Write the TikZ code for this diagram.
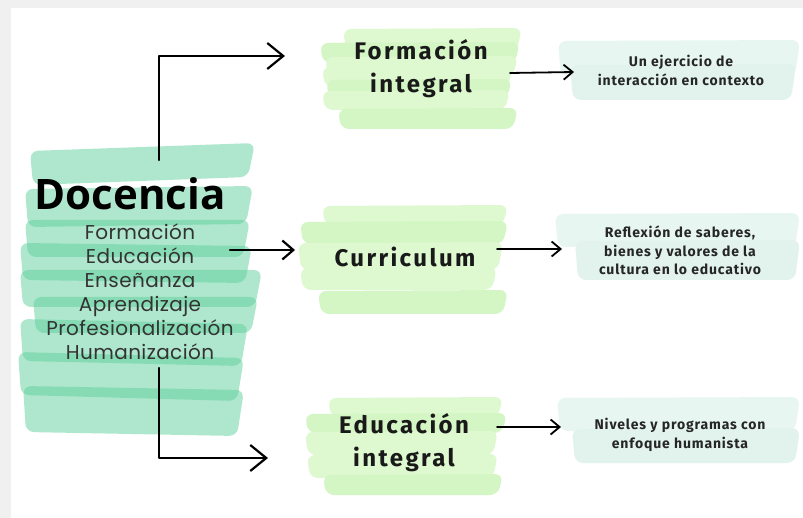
\documentclass[tikz,border=0pt]{standalone}
\usepackage{fontspec}
\usetikzlibrary{arrows.meta}
\newfontfamily\opensans{Open Sans}
\newfontfamily\poppins{Poppins}[LetterSpace=2]
\newfontfamily\firatitle{Fira Sans}[LetterSpace=10]
\newfontfamily\firasmall{Fira Sans}[LetterSpace=6]
\definecolor{mint}{RGB}{95,209,156}
\definecolor{limeA}{RGB}{222,248,208}
\definecolor{limeB}{RGB}{212,245,196}
\definecolor{paleA}{RGB}{231,246,240}
\definecolor{paleB}{RGB}{225,243,236}
\definecolor{marginc}{RGB}{240,240,240}
\tikzset{
  brush/.style={fill=#1, fill opacity=0.5, rounded corners=8pt},
  sbrush/.style={fill=#1, rounded corners=8pt},
  conn/.style={draw=black, line width=2.2pt, line cap=round, line join=round},
  bigarr/.style={conn, -{Straight Barb[length=16pt,width=26pt,line width=2.2pt]}},
  midarr/.style={conn, -{Straight Barb[length=11pt,width=19pt,line width=2.2pt]}},
  smallarr/.style={conn, line width=1.8pt, -{Straight Barb[length=9pt,width=15pt,line width=1.8pt]}},
  doctxt/.style={font=\opensans\bfseries\fontsize{42}{42}\selectfont, inner sep=0pt},
  listtxt/.style={font=\poppins\fontsize{20}{24}\selectfont, align=center, inner sep=0pt, text=black!80},
  titletxt/.style={font=\firatitle\bfseries\fontsize{24}{33}\selectfont, align=center, inner sep=0pt, text=black!90},
  smalltxt/.style={font=\firasmall\bfseries\fontsize{14}{18.5}\selectfont, align=center, inner sep=0pt, text=black!85}
}
% translucent brush stroke: color, x1, x2, y1, y2, tilt (left end lower by tilt)
\newcommand\bst[6]{\fill[brush=#1] (#2,{#4+#6}) -- (#3,#4) -- ({#3-7},#5) -- ({#2+3},{#5+#6}) -- cycle;}
% solid brush stroke
\newcommand\sst[5]{\fill[sbrush=#1] (#2,{#4+1}) -- (#3,#4) -- ({#3-5},#5) -- ({#2+3},#5) -- cycle;}
\begin{document}
\begin{tikzpicture}[x=1pt,y=-1pt]
\useasboundingbox (0,0) rectangle (803,518);
\fill[marginc] (0,0) rectangle (803,518);
\fill[white] (11,8) rectangle (803,518);

% left mint brush strokes
\bst{mint}{30}{255}{143}{177}{8}
\bst{mint}{25}{253}{186}{224}{3}
\bst{mint}{25}{250}{220}{257}{0}
\bst{mint}{20}{252}{246}{283}{-3}
\bst{mint}{20}{262}{270}{307}{0}
\bst{mint}{33}{258}{297}{333}{0}
\bst{mint}{20}{248}{324}{366}{-5}
\bst{mint}{18}{244}{358}{401}{-6}
\bst{mint}{23}{244}{390}{436}{-4}

% lime strokes: Formacion integral
\sst{limeA}{343}{522}{28}{50}
\sst{limeB}{320}{520}{42}{63}
\sst{limeA}{325}{518}{56}{76}
\sst{limeA}{322}{513}{66}{87}
\sst{limeB}{326}{512}{79}{98}
\sst{limeA}{322}{510}{90}{110}
\sst{limeB}{338}{518}{108}{129}
% lime strokes: Curriculum
\sst{limeA}{322}{508}{205}{225}
\sst{limeB}{300}{508}{221}{244}
\sst{limeA}{298}{503}{242}{270}
\sst{limeA}{300}{497}{267}{290}
\sst{limeB}{318}{508}{290}{314}
% lime strokes: Educacion integral
\sst{limeA}{328}{503}{397}{417}
\sst{limeB}{305}{507}{413}{433}
\sst{limeA}{305}{498}{431}{455}
\sst{limeA}{307}{498}{454}{478}
\sst{limeB}{323}{503}{474}{495}

% pale strokes, right boxes
\sst{paleA}{558}{800}{40}{76}
\sst{paleB}{570}{796}{64}{100}
\sst{paleA}{555}{800}{213}{247}
\sst{paleB}{575}{800}{240}{280}
\sst{paleA}{557}{800}{397}{431}
\sst{paleB}{572}{800}{428}{463}

% texts
\node[doctxt, anchor=base] (doc) at (130,210) {Docencia};
\node[listtxt, anchor=north] (lst) at (140,224) {Formación\\Educación\\Enseñanza\\Aprendizaje\\Profesionalización\\Humanización};
\node[titletxt, anchor=north] (t1) at (421,39) {Formación\\integral};
\node[titletxt, anchor=base] (t2) at (405,267) {Curriculum};
\node[titletxt, anchor=north] (t3) at (404,413) {Educación\\integral};
\node[smalltxt, anchor=north] (r1) at (681,55) {Un ejercicio de\\interacción en contexto};
\node[smalltxt, anchor=north] (r2) at (680,226) {Reflexión de saberes,\\bienes y valores de la\\cultura en lo educativo};
\node[smalltxt, anchor=north] (r3) at (680,418) {Niveles y programas con\\enfoque humanista};

% connectors
\coordinate (s1) at (159,160);
\coordinate (e1) at (285,56);
\coordinate (s2) at (230,250);
\coordinate (e2) at (295,250);
\coordinate (s3) at (159,368);
\coordinate (e3) at (268,458);
\coordinate (s4) at (510,73);
\coordinate (e4) at (574,72);
\coordinate (s5) at (497,249);
\coordinate (e5) at (562,249);
\coordinate (s6) at (497,427);
\coordinate (e6) at (561,427);
\draw[bigarr] (s1) |- (e1);
\draw[midarr] (s2) -- (e2);
\draw[bigarr] (s3) |- (e3);
\draw[smallarr] (s4) -- (e4);
\draw[smallarr] (s5) -- (e5);
\draw[smallarr] (s6) -- (e6);
\end{tikzpicture}
\end{document}
